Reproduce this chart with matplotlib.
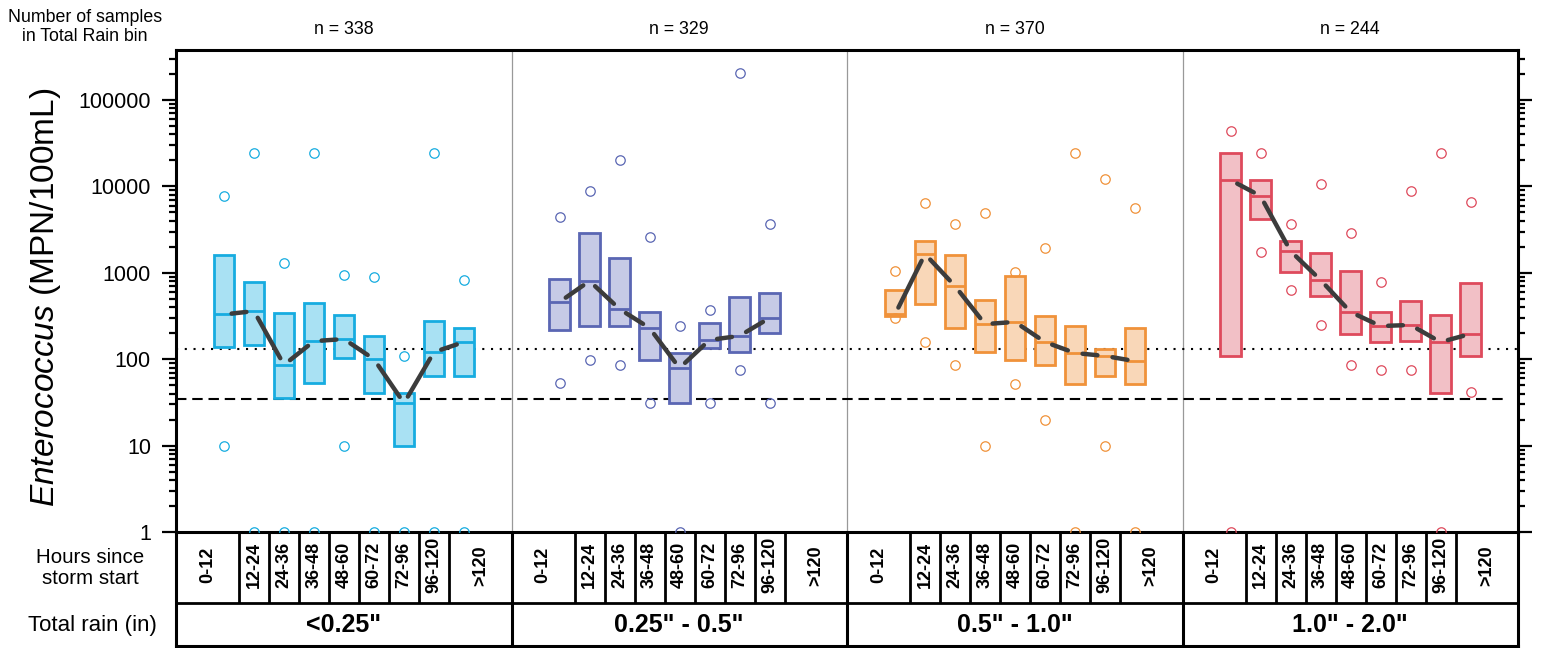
import matplotlib
matplotlib.use('Agg')
import matplotlib.pyplot as plt
import numpy as np
from matplotlib.ticker import FixedLocator, NullFormatter, FuncFormatter

plt.rcParams['font.family'] = ['Liberation Sans', 'DejaVu Sans']
plt.rcParams['mathtext.fontset'] = 'custom'
plt.rcParams['mathtext.rm'] = 'Liberation Sans'
plt.rcParams['mathtext.it'] = 'Liberation Sans:italic'

# ---- data ----
hours = ['0-12', '12-24', '24-36', '36-48', '48-60', '60-72', '72-96', '96-120', '>120']
rain_bins = ['<0.25"', '0.25" - 0.5"', '0.5" - 1.0"', '1.0" - 2.0"']
n_samples = [338, 329, 370, 244]
nan = np.nan

q1_p1 = [140, 146, 36, 53, 103, 41, 10, 64, 64]
med_p1 = [330, 360, 86, 162, 171, 100, 31, 121, 158]
q3_p1 = [1600, 780, 343, 447, 325, 186, 41, 277, 230]
hi_p1 = [7700, 24196, 1300, 24196, 940, 890, 110, 24196, 820]
lo_p1 = [10, 1, 1, 1, 10, 1, 1, 1, 1]

q1_p2 = [218, 242, 242, 98, 31, 135, 121, 201, nan]
med_p2 = [459, 804, 381, 230, 79, 167, 186, 300, nan]
q3_p2 = [848, 2890, 1483, 352, 118, 262, 525, 584, nan]
hi_p2 = [4400, 8850, 20200, 2600, 242, 371, 205000, 3670, nan]
lo_p2 = [53, 98, 86, 31, 1, 31, 75, 31, nan]

q1_p3 = [320, 435, 230, 121, 98, 86, 52, 64, 52]
med_p3 = [330, 1650, 703, 255, 270, 158, 118, 109, 95]
q3_p3 = [632, 2334, 1607, 484, 918, 316, 242, 131, 230]
hi_p3 = [1050, 6400, 3670, 4920, 1020, 1940, 24196, 12200, 5600]
lo_p3 = [300, 158, 86, 10, 52, 20, 1, 10, 1]

q1_p4 = [109, 4200, 1020, 539, 196, 158, 162, 41, 109]
med_p4 = [11860, 7740, 1787, 826, 352, 242, 249, 158, 196]
q3_p4 = [24196, 11860, 2334, 1695, 1050, 352, 472, 325, 762]
hi_p4 = [43750, 24196, 3670, 10660, 2890, 783, 8850, 24196, 6600]
lo_p4 = [1, 1742, 632, 249, 86, 75, 75, 1, 42]

stv = 130   # dotted line
gm = 35     # dashed line

edge_colors = ['#17ACE0', '#5A66B3', '#F0923A', '#DE4A5C']
face_colors = ['#A9E1F3', '#C6CAE6', '#F9D7B8', '#F2C0C6']

panels = [
    (q1_p1, med_p1, q3_p1, hi_p1, lo_p1),
    (q1_p2, med_p2, q3_p2, hi_p2, lo_p2),
    (q1_p3, med_p3, q3_p3, hi_p3, lo_p3),
    (q1_p4, med_p4, q3_p4, hi_p4, lo_p4),
]

# ---- layout ----
FW, FH = 1541, 648
fig = plt.figure(figsize=(FW / 100, FH / 100), dpi=100)
L, R, T, B, TB = 176, 1518, 50, 532, 646
tab = fig.add_axes([L / FW, 1 - TB / FH, (R - L) / FW, (TB - B) / FH])
ax = fig.add_axes([L / FW, 1 - B / FH, (R - L) / FW, (B - T) / FH])
ax.patch.set_visible(False)

W = (R - L) / 4 / 30.0   # panel width in box-spacing units
first = 1.6
bw = 0.667

for p, (q1, med, q3, hi, lo) in enumerate(panels):
    x = p * W + first + np.arange(len(hours))
    q1 = np.array(q1, float); q3 = np.array(q3, float); med = np.array(med, float)
    ok = ~np.isnan(q1)
    ax.bar(x[ok], q3[ok] - q1[ok], bottom=q1[ok], width=bw,
           facecolor=face_colors[p], edgecolor=edge_colors[p], linewidth=2, zorder=3)
    ax.hlines(med[ok], x[ok] - bw / 2, x[ok] + bw / 2, color=edge_colors[p], lw=2, zorder=4)
    ax.plot(x, hi, 'o', ms=6.8, mfc='none', mec=edge_colors[p], mew=0.9, zorder=3)
    ax.plot(x, lo, 'o', ms=6.8, mfc='none', mec=edge_colors[p], mew=0.9, zorder=3)
    xs, ms = x[ok], med[ok]
    for i in range(len(xs) - 1):
        ax.annotate('', xy=(xs[i + 1], ms[i + 1]), xytext=(xs[i], ms[i]),
                    arrowprops=dict(arrowstyle='-', color='#3c3c3c', lw=3.2,
                                    shrinkA=5.5, shrinkB=5.5), zorder=5)
    if p > 0:
        ax.axvline(p * W, color='#999999', lw=0.9, zorder=1)
    ax.text(p * W + W / 2, (B - 30) / (B - T), 'n = %d' % n_samples[p],
            transform=ax.get_xaxis_transform(), ha='center', va='center', fontsize=12.8)

ax.axhline(stv, color='black', lw=1.5, ls=(0, (1, 3.2)), zorder=2)
ax.axhline(gm, xmax=(1507 - L) / (R - L), color='black', lw=1.5, ls=(0, (5, 2.8)), zorder=2)

ax.set_yscale('log')
ax.set_ylim(1, 10 ** ((B - T) / 86.4))
ax.set_xlim(0, 4 * W)
ax.set_xticks([])
major = [1, 10, 100, 1000, 10000, 100000]
minor = [m * 10 ** e for e in range(0, 6) for m in range(2, 10)]
ax.yaxis.set_major_locator(FixedLocator(major))
ax.yaxis.set_minor_locator(FixedLocator(minor))
ax.yaxis.set_major_formatter(FuncFormatter(lambda v, pos: '%d' % v))
ax.yaxis.set_minor_formatter(NullFormatter())
ax.tick_params(axis='y', which='both', direction='out', left=True, right=True,
               labelleft=True, labelright=False, width=1.6, labelsize=15.5, pad=8)
ax.tick_params(axis='y', which='major', length=10)
ax.tick_params(axis='y', which='minor', length=5)
for s in ax.spines.values():
    s.set_linewidth(2.2)

# ---- table below ----
tab.set_xlim(0, 4 * W)
tab.set_ylim(0, 1)
tab.set_xticks([]); tab.set_yticks([])
tab.spines['top'].set_visible(False)
for s in ['left', 'right', 'bottom']:
    tab.spines[s].set_linewidth(2.2)
mid = (TB - 603) / (TB - B)
tab.axhline(mid, color='black', lw=2)
for p in range(4):
    x = p * W + first + np.arange(len(hours))
    if p > 0:
        tab.axvline(p * W, color='black', lw=2.2)
    edges = x[:-1] + 0.5
    tab.vlines(edges, mid, 1, color='black', lw=2)
    cells = np.concatenate([[p * W], edges, [(p + 1) * W]])
    for k, h in enumerate(hours):
        tab.text((cells[k] + cells[k + 1]) / 2, (1 + mid) / 2 + 0.02, h, rotation=90,
                 ha='center', va='center', fontsize=13, fontweight='bold')
    tab.text(p * W + W / 2, mid / 2, rain_bins[p], ha='center', va='center',
             fontsize=18, fontweight='bold')

# ---- side labels ----
fig.text(85 / FW, 1 - 27 / FH, 'Number of samples\nin Total Rain bin', ha='center',
         va='center', fontsize=12.8, linespacing=1.15)
fig.text(90 / FW, 1 - 568 / FH, 'Hours since\nstorm start', ha='center', va='center',
         fontsize=14.8, linespacing=1.15)
fig.text(92 / FW, 1 - 625 / FH, 'Total rain (in)', ha='center', va='center', fontsize=16)
fig.text(46 / FW, 1 - 297 / FH, r'$\mathit{Enterococcus}$ (MPN/100mL)', rotation=90,
         ha='center', va='center', fontsize=24)

fig.savefig('out.png', dpi=100)
